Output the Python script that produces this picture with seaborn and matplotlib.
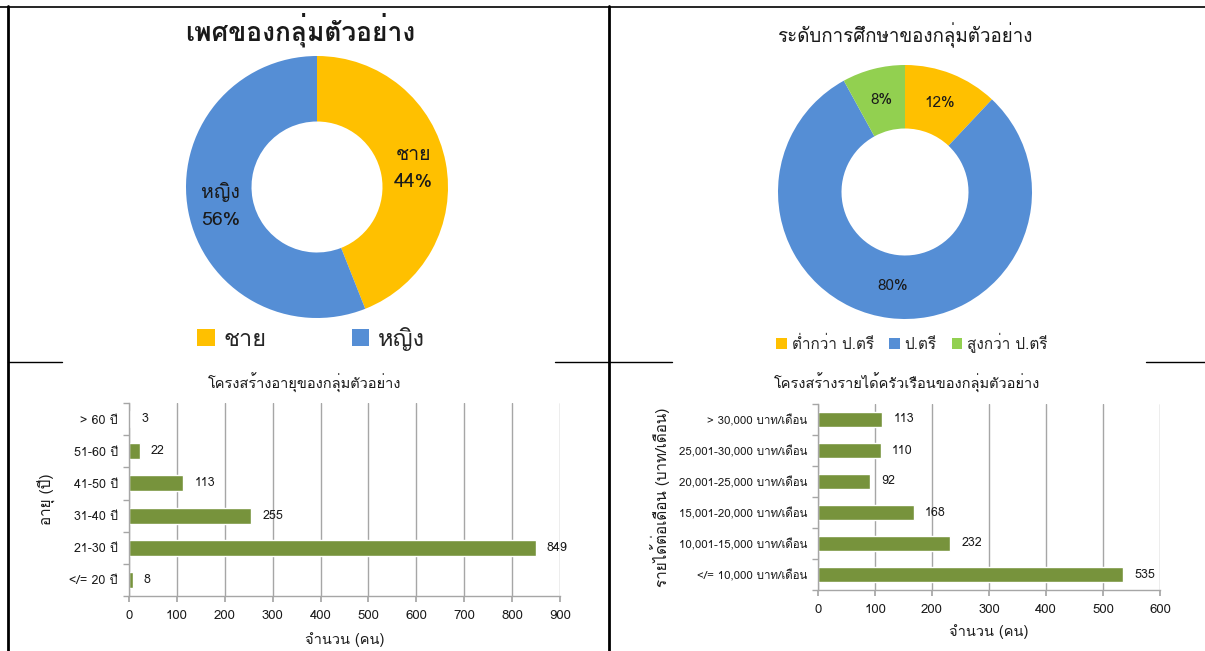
import matplotlib
matplotlib.use("Agg")
import matplotlib.pyplot as plt
from matplotlib import font_manager as fm
from matplotlib.ft2font import FT2Font
from matplotlib.patches import Patch
from matplotlib.lines import Line2D
import seaborn as sns
import pandas as pd

# ---------------- data ----------------
gender_labels = ["ชาย", "หญิง"]
gender_values = [44, 56]
gender_title = "เพศของกลุ่มตัวอย่าง"

edu_labels = ["ต่ำกว่า ป.ตรี", "ป.ตรี", "สูงกว่า ป.ตรี"]
edu_values = [12, 80, 8]
edu_title = "ระดับการศึกษาของกลุ่มตัวอย่าง"

age_labels = ["> 60 ปี", "51-60 ปี", "41-50 ปี", "31-40 ปี", "21-30 ปี", "</= 20 ปี"]
age_values = [3, 22, 113, 255, 849, 8]
age_title = "โครงสร้างอายุของกลุ่มตัวอย่าง"
age_ylabel = "อายุ (ปี)"
age_xticks = [0, 100, 200, 300, 400, 500, 600, 700, 800, 900]

inc_labels = ["> 30,000 บาท/เดือน", "25,001-30,000 บาท/เดือน", "20,001-25,000 บาท/เดือน",
              "15,001-20,000 บาท/เดือน", "10,001-15,000 บาท/เดือน", "</= 10,000 บาท/เดือน"]
inc_values = [113, 110, 92, 168, 232, 535]
inc_title = "โครงสร้างรายได้ครัวเรือนของกลุ่มตัวอย่าง"
inc_ylabel = "รายได้ต่อเดือน (บาท/เดือน)"
inc_xticks = [0, 100, 200, 300, 400, 500, 600]

xlabel = "จำนวน (คน)"

# ---------------- style ----------------
YELLOW = "#FFC000"
BLUE = "#558ED5"
GREEN = "#92D050"
BAR = "#77933C"

sns.set_theme(style="white")


def find_thai_family():
    found = []
    for f in fm.fontManager.ttflist:
        try:
            cm = FT2Font(f.fname).get_charmap()
        except Exception:
            continue
        if 0x0E01 in cm and 0x0E34 in cm and 0x0E48 in cm:
            found.append(f.name)
    return found[0] if found else None


thai = find_thai_family()
fams = ([thai] if thai else []) + ["DejaVu Sans"]
plt.rcParams["font.family"] = fams
plt.rcParams["axes.unicode_minus"] = False

W, H = 1205, 651
fig = plt.figure(figsize=(W / 100, H / 100), dpi=100)
fig.patch.set_facecolor("white")


def rect(x0, y0, x1, y1):
    return [x0 / W, 1 - y1 / H, (x1 - x0) / W, (y1 - y0) / H]


def fx(x):
    return x / W


def fy(y):
    return 1 - y / H


# ---------------- top-left donut ----------------
ax1 = fig.add_axes(rect(317 - 131, 187 - 131, 317 + 131, 187 + 131))
g_text = iter([f"{l}\n{v}%" for l, v in zip(gender_labels, gender_values)])
ax1.pie(gender_values, colors=[YELLOW, BLUE], startangle=90, counterclock=False,
        radius=1, wedgeprops=dict(width=0.5, linewidth=0),
        autopct=lambda p: next(g_text), pctdistance=0.75,
        textprops=dict(fontsize=14, color="#1a1a1a", linespacing=1.6))
ax1.set_xlim(-1, 1)
ax1.set_ylim(-1, 1)
ax1.set_aspect("equal")
fig.text(fx(300), fy(30), gender_title, fontsize=19, ha="center", va="center", color="#1a1a1a",
         fontweight="semibold")
h1 = [Patch(facecolor=c, edgecolor="none") for c in [YELLOW, BLUE]]
fig.legend(h1, gender_labels, loc="center", bbox_to_anchor=(fx(311), fy(339)), ncol=2,
           frameon=False, fontsize=17, handlelength=0.75, handleheight=0.75,
           handletextpad=0.35, columnspacing=3.6)

# ---------------- top-right donut ----------------
ax2 = fig.add_axes(rect(905 - 127, 192 - 127, 905 + 127, 192 + 127))
ax2.pie(edu_values, colors=[YELLOW, BLUE, GREEN], startangle=90, counterclock=False,
        radius=1, wedgeprops=dict(width=0.5, linewidth=0),
        autopct=lambda p: f"{p:.0f}%", pctdistance=0.75,
        textprops=dict(fontsize=11, color="#1a1a1a"))
ax2.set_xlim(-1, 1)
ax2.set_ylim(-1, 1)
ax2.set_aspect("equal")
fig.text(fx(905), fy(35), edu_title, fontsize=13.5, ha="center", va="center", color="#1a1a1a")
h2 = [Patch(facecolor=c, edgecolor="none") for c in [YELLOW, BLUE, GREEN]]
fig.legend(h2, edu_labels, loc="center", bbox_to_anchor=(fx(912), fy(343)), ncol=3,
           frameon=False, fontsize=11, handlelength=0.7, handleheight=0.7,
           handletextpad=0.3, columnspacing=1.0)


# ---------------- bar charts ----------------
def bar_panel(box, labels, values, xticks, title, title_xy, ylabel, ylabel_x, xlabel_y,
              ylab_size):
    ax = fig.add_axes(rect(*box))
    df = pd.DataFrame({"cat": labels, "val": values})
    sns.barplot(data=df, x="val", y="cat", orient="h", color=BAR, width=0.5,
                saturation=1, ax=ax, order=labels)
    ax.set_xlim(xticks[0], xticks[-1])
    ax.set_ylim(len(labels) - 0.5, -0.5)
    ax.set_xticks(xticks)
    ax.xaxis.grid(True, color="#A6A6A6", linewidth=1)
    ax.set_axisbelow(True)
    for s in ["top", "right"]:
        ax.spines[s].set_visible(False)
    for s in ["left", "bottom"]:
        ax.spines[s].set_color("#A6A6A6")
        ax.spines[s].set_linewidth(1)
    ax.set_yticks([i - 0.5 for i in range(len(labels) + 1)], minor=True)
    ax.tick_params(axis="y", which="major", length=0, pad=8, labelsize=ylab_size,
                   labelcolor="#1a1a1a")
    ax.tick_params(axis="y", which="minor", length=4, color="#A6A6A6", direction="out", left=True)
    ax.tick_params(axis="x", which="major", length=4, color="#A6A6A6", direction="out",
                   bottom=True, labelsize=9.5, labelcolor="#1a1a1a", pad=6)
    for c in ax.containers:
        ax.bar_label(c, fmt="%d", padding=8, fontsize=9, color="#1a1a1a")
    ax.set_xlabel("")
    ax.set_ylabel("")
    fig.text(fx(title_xy[0]), fy(title_xy[1]), title, fontsize=10.5, ha="center", va="center",
             color="#1a1a1a")
    cy = (box[1] + box[3]) / 2
    fig.text(fx(ylabel_x), fy(cy), ylabel, fontsize=11, rotation=90, ha="center", va="center",
             color="#1a1a1a")
    cx = (box[0] + box[2]) / 2
    fig.text(fx(cx), fy(xlabel_y), xlabel, fontsize=10.5, ha="center", va="center",
             color="#1a1a1a")
    return ax


bar_panel((129, 403, 560, 596), age_labels, age_values, age_xticks, age_title, (305, 383),
          age_ylabel, 47, 640, 9)
bar_panel((818, 404, 1160, 590), inc_labels, inc_values, inc_xticks, inc_title, (907, 383),
          inc_ylabel, 660, 632, 8.3)

# ---------------- frame lines ----------------
def fline(x0, y0, x1, y1, lw):
    fig.add_artist(Line2D([fx(x0), fx(x1)], [fy(y0), fy(y1)], color="black", linewidth=lw,
                          transform=fig.transFigure))


fline(0, 6.5, W, 6.5, 1.2)
fline(8, 6, 8, H, 2.0)
fline(608.5, 6, 608.5, H, 2.0)
fline(8, 362, 62, 362, 1.0)
fline(555, 362, 672, 362, 1.0)
fline(1146, 362, W, 362, 1.0)

fig.savefig("out.png", dpi=100, facecolor="white")
